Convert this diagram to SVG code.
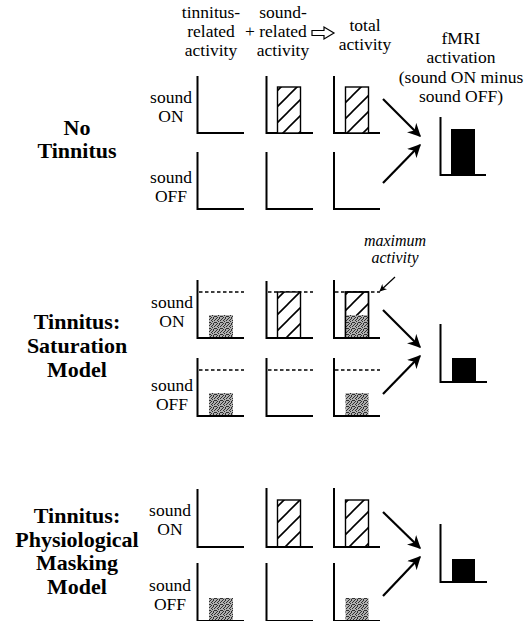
<svg xmlns="http://www.w3.org/2000/svg" width="524" height="621" viewBox="0 0 524 621">
<style>
text{font-family:"Liberation Serif","Times New Roman",serif;fill:#000}
.t{font-family:"Liberation Serif","Times New Roman",serif;font-size:17.5px;text-anchor:middle}
.b{font-family:"Liberation Serif","Times New Roman",serif;font-size:22px;font-weight:bold;text-anchor:middle}
.i{font-family:"Liberation Serif","Times New Roman",serif;font-size:16px;font-style:italic;text-anchor:middle}
.ax{fill:none;stroke:#000;stroke-width:2}
.dash{stroke:#000;stroke-width:1.5;stroke-dasharray:3.5 2.5}
.hb{fill:url(#hatch);stroke:#000;stroke-width:1.4}
.box{fill:none;stroke:#000;stroke-width:1.4}
.gb{fill:url(#stip)}
.kb{fill:#000}
.arr{stroke:#000;stroke-width:2.2;fill:none;marker-end:url(#ah)}
</style>
<defs>
<pattern id="hatch" width="16" height="16" patternUnits="userSpaceOnUse">
<rect width="16" height="16" fill="#fff"/>
<path d="M-4,4 L4,-4 M0,16 L16,0 M12,20 L20,12" stroke="#000" stroke-width="1.6"/>
</pattern>
<pattern id="stip" width="6" height="6" patternUnits="userSpaceOnUse">
<rect width="6" height="6" fill="#b0b0b0"/>
<path fill="#303030" d="M0,0h1v1h-1z M3,0h1v1h-1z M5,1h1v1h-1z M1,2h1v1h-1z M4,2h1v1h-1z M2,3h1v1h-1z M0,4h1v1h-1z M5,4h1v1h-1z M3,5h1v1h-1z M1,5h1v1h-1z M2,1h1v1h-1z M4,4h1v1h-1z"/>
</pattern>
<marker id="ah" viewBox="0 0 10 10" markerWidth="6" markerHeight="6" refX="9" refY="5" orient="auto">
<path d="M0,0 L10,5 L0,10 L3,5 Z" fill="#000"/>
</marker>
<marker id="ahs" viewBox="0 0 10 10" markerWidth="6" markerHeight="6" refX="9" refY="5" orient="auto">
<path d="M0,0 L10,5 L0,10 L3,5 Z" fill="#000"/>
</marker>
</defs>

<g id="header">
<text class="t" x="211" y="18">tinnitus-</text>
<text class="t" x="211" y="37">related</text>
<text class="t" x="211" y="56">activity</text>
<text class="t" x="250" y="37">+</text>
<text class="t" x="283" y="18">sound-</text>
<text class="t" x="283" y="37">related</text>
<text class="t" x="283" y="56">activity</text>
<path d="M312,30.5 H324 V27 L334,33 L324,39 V35.5 H312 Z" fill="#fff" stroke="#000" stroke-width="1.2"/>
<text class="t" x="365" y="31">total</text>
<text class="t" x="365" y="50">activity</text>
<text class="t" x="461" y="44">fMRI</text>
<text class="t" x="461" y="63">activation</text>
<text class="t" x="461" y="83">(sound ON minus</text>
<text class="t" x="461" y="102">sound OFF)</text>
</g>

<!-- Section 1: No Tinnitus -->
<g id="label-no-tinnitus">
<text class="b" x="77" y="135">No</text>
<text class="b" x="77" y="158">Tinnitus</text>
</g>
<g id="s1-on">
<text class="t" x="171" y="103">sound</text>
<text class="t" x="171" y="122">ON</text>
<path class="ax" d="M197.5,76 V133 H244"/>
<path class="ax" d="M266.5,76 V133 H313"/>
<rect class="hb" x="277.5" y="87" width="23" height="46"/>
<path class="ax" d="M334,76 V133 H380"/>
<rect class="hb" x="345.5" y="87" width="23" height="46"/>
</g>
<g id="s1-off">
<text class="t" x="171" y="183">sound</text>
<text class="t" x="171" y="202">OFF</text>
<path class="ax" d="M197.5,152 V209 H244"/>
<path class="ax" d="M266.5,152 V209 H313"/>
<path class="ax" d="M334,152 V209 H380"/>
</g>
<g id="s1-fmri">
<rect class="kb" x="451" y="129" width="24" height="46"/>
<path class="ax" d="M440.5,117 V175 H486"/>
</g>

<!-- Section 2: Saturation -->
<g id="label-saturation">
<text class="b" x="77" y="329">Tinnitus:</text>
<text class="b" x="77" y="353">Saturation</text>
<text class="b" x="77" y="377">Model</text>
</g>
<g id="s2-on">
<text class="t" x="172" y="308">sound</text>
<text class="t" x="172" y="327">ON</text>
<line class="dash" x1="199" y1="292" x2="244" y2="292"/>
<rect class="gb" x="209" y="315" width="24" height="23"/>
<path class="ax" d="M197.5,280 V338 H244"/>
<line class="dash" x1="268" y1="292" x2="313" y2="292"/>
<rect class="hb" x="277.5" y="292" width="23" height="46"/>
<path class="ax" d="M266.5,281 V338 H313"/>
<line class="dash" x1="335" y1="292" x2="380" y2="292"/>
<rect class="hb" x="345.5" y="292" width="23" height="46"/>
<rect class="gb" x="345.5" y="315" width="23" height="23"/>
<rect class="box" x="345.5" y="292" width="23" height="46"/>
<path class="ax" d="M334,280 V338 H380"/>
</g>
<g id="s2-off">
<text class="t" x="172" y="391">sound</text>
<text class="t" x="172" y="410">OFF</text>
<line class="dash" x1="199" y1="370" x2="244" y2="370"/>
<rect class="gb" x="209" y="393" width="24" height="23"/>
<path class="ax" d="M197.5,358 V416 H244"/>
<line class="dash" x1="268" y1="370" x2="313" y2="370"/>
<path class="ax" d="M266.5,358 V416 H313"/>
<line class="dash" x1="335" y1="370" x2="380" y2="370"/>
<rect class="gb" x="345.5" y="393" width="23" height="23"/>
<path class="ax" d="M334,358 V416 H380"/>
</g>
<g id="s2-annotation">
<text class="i" x="395" y="246">maximum</text>
<text class="i" x="395" y="263">activity</text>
<line x1="395" y1="277" x2="380" y2="291" stroke="#000" stroke-width="1.2" marker-end="url(#ahs)"/>
</g>
<g id="s2-fmri">
<rect class="kb" x="452" y="358" width="24" height="24"/>
<path class="ax" d="M440.5,324 V382 H487"/>
</g>

<!-- Section 3: Physiological Masking -->
<g id="label-masking">
<text class="b" x="77" y="523">Tinnitus:</text>
<text class="b" x="77" y="547">Physiological</text>
<text class="b" x="77" y="570">Masking</text>
<text class="b" x="77" y="594">Model</text>
</g>
<g id="s3-on">
<text class="t" x="170" y="516">sound</text>
<text class="t" x="170" y="535">ON</text>
<path class="ax" d="M197.5,489 V547 H244"/>
<rect class="hb" x="277.5" y="500" width="23" height="47"/>
<path class="ax" d="M266.5,488 V547 H313"/>
<rect class="hb" x="345.5" y="500" width="23" height="47"/>
<path class="ax" d="M334,488 V547 H380"/>
</g>
<g id="s3-off">
<text class="t" x="170" y="591">sound</text>
<text class="t" x="170" y="610">OFF</text>
<rect class="gb" x="209" y="598" width="24" height="23"/>
<path class="ax" d="M197.5,563 V621 H244"/>
<path class="ax" d="M266.5,563 V621 H313"/>
<rect class="gb" x="345.5" y="598" width="23" height="23"/>
<path class="ax" d="M334,563 V621 H380"/>
</g>
<g id="s3-fmri">
<rect class="kb" x="452" y="559" width="23" height="23"/>
<path class="ax" d="M440.5,524 V582 H487"/>
</g>

<g id="connectors">
<line class="arr" x1="383" y1="99" x2="420" y2="136"/>
<line class="arr" x1="383" y1="183" x2="420" y2="145"/>
<line class="arr" x1="383" y1="310" x2="420" y2="347"/>
<line class="arr" x1="383" y1="394" x2="420" y2="356"/>
<line class="arr" x1="383" y1="512" x2="420" y2="548"/>
<line class="arr" x1="383" y1="596" x2="420" y2="557"/>
</g>
</svg>
